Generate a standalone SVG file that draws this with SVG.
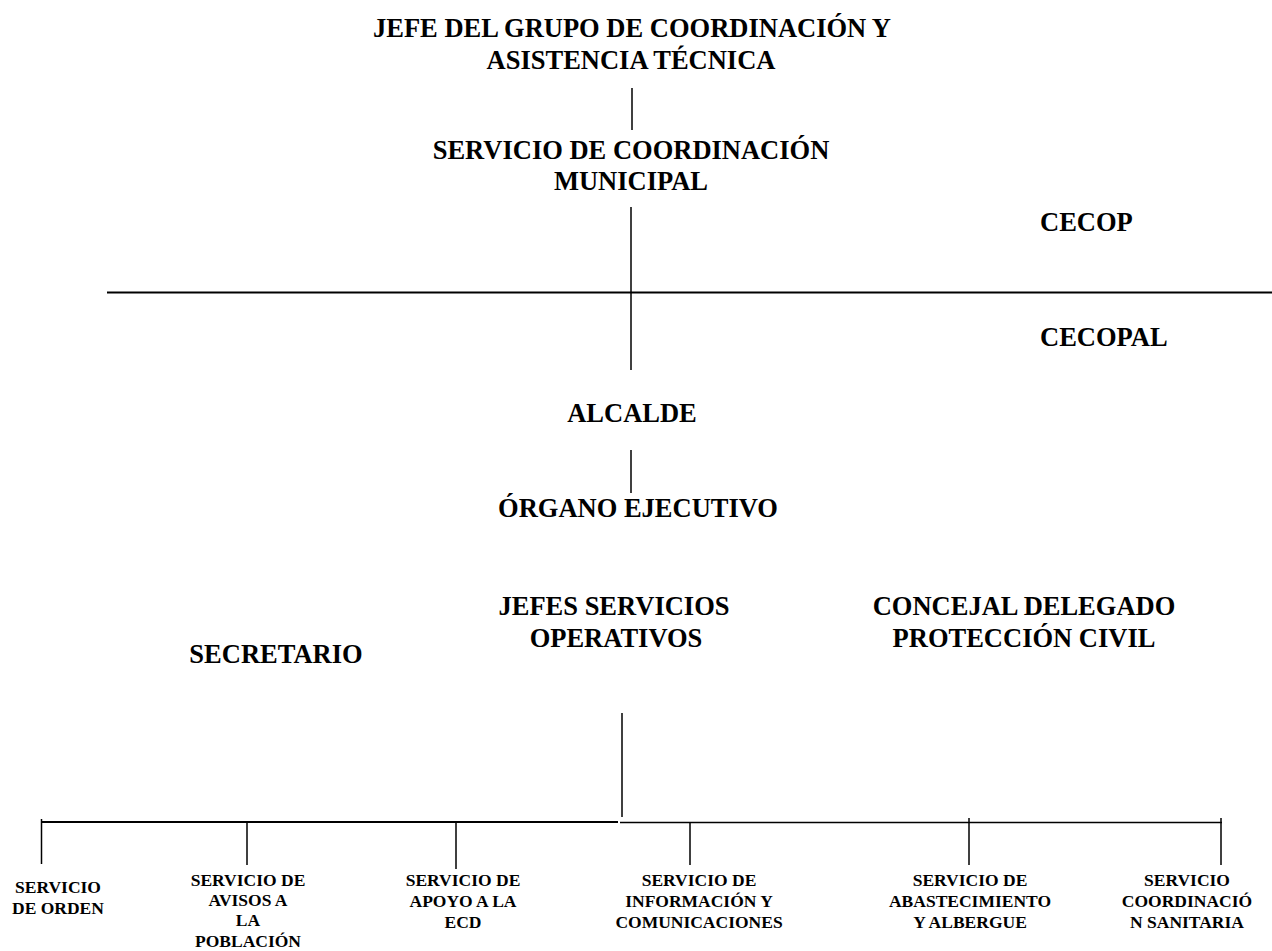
<svg xmlns="http://www.w3.org/2000/svg" width="1272" height="951" viewBox="0 0 1272 951">
<style>
text{font-family:"Liberation Serif","Times New Roman",serif;font-weight:bold;fill:#000}
.big{font-size:26.5px;text-anchor:middle}
.lbl{font-size:26.5px}
.sm{font-size:17.5px;text-anchor:middle}
.ln{stroke:#000;stroke-width:1.5;fill:none}
.thick{stroke:#000;stroke-width:2;fill:none}
</style>
<rect width="1272" height="951" fill="#fff"/>
<g id="connectors">
<line class="ln" x1="632" y1="88" x2="632" y2="130"/>
<line class="ln" x1="631" y1="207" x2="631" y2="370"/>
<line class="thick" x1="107" y1="292.5" x2="1272" y2="292.5"/>
<line class="ln" x1="631" y1="450" x2="631" y2="493"/>
<line class="ln" x1="622" y1="713" x2="622" y2="817"/>
<line class="thick" x1="41" y1="822" x2="618" y2="822"/>
<line class="ln" x1="620" y1="822.5" x2="1222" y2="822.5"/>
<line class="ln" x1="41.5" y1="819" x2="41.5" y2="864"/>
<line class="ln" x1="247" y1="822" x2="247" y2="865"/>
<line class="ln" x1="456" y1="822" x2="456" y2="869"/>
<line class="ln" x1="690" y1="823" x2="690" y2="865"/>
<line class="ln" x1="969" y1="818" x2="969" y2="865"/>
<line class="ln" x1="1221" y1="818" x2="1221" y2="865"/>
</g>
<g id="jefe-grupo"><text class="big" x="632" y="37">JEFE DEL GRUPO DE COORDINACIÓN Y</text><text class="big" x="631" y="69">ASISTENCIA TÉCNICA</text></g>
<g id="servicio-coordinacion"><text class="big" x="631" y="159">SERVICIO DE COORDINACIÓN</text><text class="big" x="631" y="190">MUNICIPAL</text></g>
<g id="cecop"><text class="lbl" x="1040" y="231">CECOP</text></g>
<g id="cecopal"><text class="lbl" x="1040" y="346">CECOPAL</text></g>
<g id="alcalde"><text class="big" x="632" y="422">ALCALDE</text></g>
<g id="organo-ejecutivo"><text class="big" x="638" y="517">ÓRGANO EJECUTIVO</text></g>
<g id="jefes-servicios"><text class="big" x="614" y="615">JEFES SERVICIOS</text><text class="big" x="616" y="647">OPERATIVOS</text></g>
<g id="concejal"><text class="big" x="1024" y="615">CONCEJAL DELEGADO</text><text class="big" x="1024" y="647">PROTECCIÓN CIVIL</text></g>
<g id="secretario"><text class="big" x="276" y="663">SECRETARIO</text></g>
<g id="servicio-orden"><text class="sm" x="58" y="893">SERVICIO</text><text class="sm" x="58" y="914">DE ORDEN</text></g>
<g id="servicio-avisos"><text class="sm" x="248" y="886">SERVICIO DE</text><text class="sm" x="248" y="906">AVISOS A</text><text class="sm" x="248" y="926">LA</text><text class="sm" x="248" y="947">POBLACIÓN</text></g>
<g id="servicio-apoyo"><text class="sm" x="463" y="886">SERVICIO DE</text><text class="sm" x="463" y="907">APOYO A LA</text><text class="sm" x="463" y="928">ECD</text></g>
<g id="servicio-informacion"><text class="sm" x="699" y="886">SERVICIO DE</text><text class="sm" x="699" y="907">INFORMACIÓN Y</text><text class="sm" x="699" y="928">COMUNICACIONES</text></g>
<g id="servicio-abastecimiento"><text class="sm" x="970" y="886">SERVICIO DE</text><text class="sm" x="970" y="907">ABASTECIMIENTO</text><text class="sm" x="970" y="928">Y ALBERGUE</text></g>
<g id="servicio-sanitaria"><text class="sm" x="1187" y="886">SERVICIO</text><text class="sm" x="1187" y="907">COORDINACIÓ</text><text class="sm" x="1187" y="928">N SANITARIA</text></g>
</svg>
